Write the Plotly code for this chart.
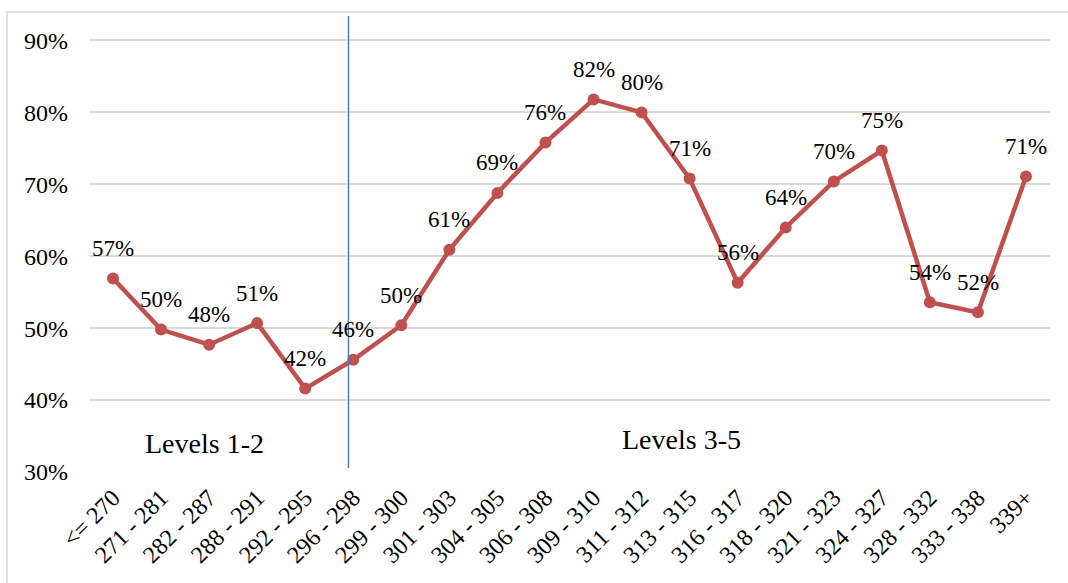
import plotly.graph_objects as go

# Score bands and share of students in each band
score_bands = ["<= 270", "271 - 281", "282 - 287", "288 - 291", "292 - 295",
               "296 - 298", "299 - 300", "301 - 303", "304 - 305", "306 - 308",
               "309 - 310", "311 - 312", "313 - 315", "316 - 317", "318 - 320",
               "321 - 323", "324 - 327", "328 - 332", "333 - 338", "339+"]
share = [0.569, 0.498, 0.477, 0.507, 0.416, 0.456, 0.504, 0.609, 0.688, 0.758,
         0.818, 0.800, 0.708, 0.563, 0.640, 0.704, 0.747, 0.536, 0.522, 0.711]

y_ticks = [0.3, 0.4, 0.5, 0.6, 0.7, 0.8, 0.9]
level_labels = ["Levels 1-2", "Levels 3-5"]
level_label_x = [1.9, 11.84]
level_label_y = [0.340, 0.345]
level_split_x = 4.9

FONT = "Liberation Serif"
RED = "#c0504d"

fig = go.Figure()
fig.add_trace(go.Scatter(
    x=score_bands, y=share, mode="lines+markers",
    line=dict(color=RED, width=4.5),
    marker=dict(color=RED, size=12),
    hoverinfo="skip", showlegend=False,
))

annotations = []
for band, v in zip(score_bands, share):
    annotations.append(dict(
        x=band, y=v, xref="x", yref="y", text=f"{round(v * 100)}%",
        showarrow=False, yshift=30, font=dict(family=FONT, size=23, color="black"),
    ))
for txt, lx, ly in zip(level_labels, level_label_x, level_label_y):
    annotations.append(dict(
        x=lx, y=ly, xref="x", yref="y", text=txt, showarrow=False,
        font=dict(family=FONT, size=28, color="black"),
    ))

L, R, T, B = 89, 18, 16, 111
W, H = 1068, 583
pw, ph = W - L - R, H - T - B

shapes = [
    # divider between the two level groups
    dict(type="line", xref="x", yref="y", x0=level_split_x, x1=level_split_x,
         y0=0.3056, y1=0.934, line=dict(color="#4a7fc1", width=1.5)),
    # chart frame
    dict(type="rect", xref="paper", yref="paper",
         x0=(7 - L) / pw, x1=(W + 5 - L) / pw,
         y0=-(H + 5 - T - ph) / ph, y1=1 + (T - 12) / ph,
         line=dict(color="#d9d9d9", width=1.5), layer="below"),
]

fig.update_layout(
    width=W, height=H,
    margin=dict(l=L, r=R, t=T, b=B),
    paper_bgcolor="white", plot_bgcolor="white",
    font=dict(family=FONT, color="black"),
    annotations=annotations, shapes=shapes,
    xaxis=dict(
        type="category", range=[-0.5, 19.5], showgrid=False, zeroline=False,
        showline=False, ticks="", tickangle=-45,
        tickfont=dict(family=FONT, size=24, color="black"),
        ticklabelstandoff=6,
    ),
    yaxis=dict(
        range=[0.3, 0.934], tickvals=y_ticks, tickformat=".0%",
        showgrid=True, gridcolor="#d9d9d9", gridwidth=1.5, zeroline=False,
        showline=False, ticks="",
        tickfont=dict(family=FONT, size=24, color="black"),
        ticklabelstandoff=20,
    ),
)

fig.write_html("out.html")
